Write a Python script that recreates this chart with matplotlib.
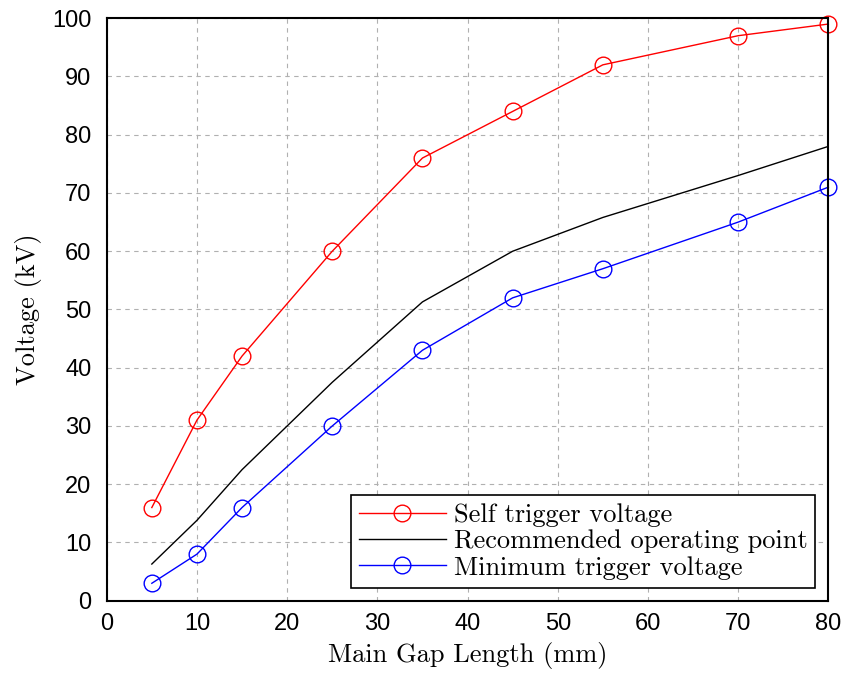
import matplotlib.pyplot as plt
import numpy as np

gap = np.array([5, 10, 15, 25, 35, 45, 55, 70, 80])
self_trigger = np.array([16, 31, 42, 60, 76, 84, 92, 97, 99])
recommended = np.array([6.3, 13.8, 22.5, 37.5, 51.3, 60, 65.8, 73, 78])
min_trigger = np.array([3, 8, 16, 30, 43, 52, 57, 65, 71])

fig = plt.figure(figsize=(8.47, 6.75), dpi=100)
ax = fig.add_axes([0.126, 0.11, 0.852, 0.863])

ax.plot(gap, self_trigger, color='red', lw=1.0, marker='o', ms=12,
        mfc='none', mec='red', mew=1.0, label='Self trigger voltage', clip_on=False)
ax.plot(gap, recommended, color='black', lw=1.0, label='Recommended operating point')
ax.plot(gap, min_trigger, color='blue', lw=1.0, marker='o', ms=12,
        mfc='none', mec='blue', mew=1.0, label='Minimum trigger voltage', clip_on=False)

ax.set_xlim(0, 80)
ax.set_ylim(0, 100)
ax.set_xticks(np.arange(0, 81, 10))
ax.set_yticks(np.arange(0, 101, 10))
ax.grid(True, ls=(0, (4, 4)), color='#b0b0b0', lw=0.8)
ax.tick_params(axis='x', length=0, pad=9, labelsize=17)
ax.tick_params(axis='y', length=0, pad=11, labelsize=17)
for lab in ax.get_xticklabels() + ax.get_yticklabels():
    lab.set_family('Liberation Sans')
for s in ax.spines.values():
    s.set_linewidth(1.5)

ax.set_xlabel('Main Gap Length (mm)', family='cmr10', fontsize=19, labelpad=5)
ax.set_ylabel('Voltage (kV)', family='cmr10', fontsize=19, labelpad=7)

leg = ax.legend(loc='lower right', prop={'family': 'cmr10', 'size': 19},
                fancybox=False, edgecolor='black', framealpha=1,
                handlelength=3.3, borderpad=0.3, labelspacing=0.1,
                handletextpad=0.3, borderaxespad=0.5)
leg.get_frame().set_linewidth(1.2)

plt.savefig('out.png', dpi=100)
